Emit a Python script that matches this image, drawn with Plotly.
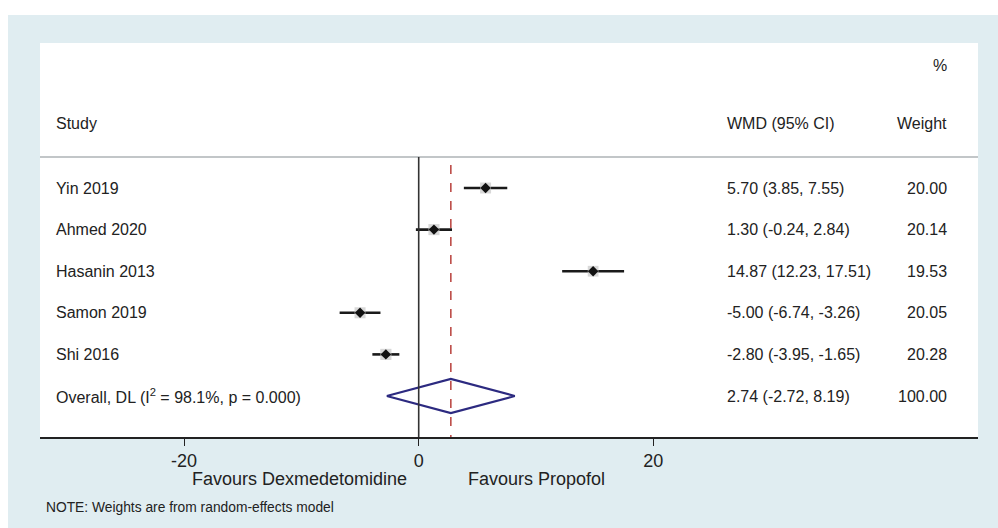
import plotly.graph_objects as go

# ---- data ----
studies = ["Yin 2019", "Ahmed 2020", "Hasanin 2013", "Samon 2019", "Shi 2016"]
wmd = [5.70, 1.30, 14.87, -5.00, -2.80]
ci_low = [3.85, -0.24, 12.23, -6.74, -3.95]
ci_high = [7.55, 2.84, 17.51, -3.26, -1.65]
weights = [20.00, 20.14, 19.53, 20.05, 20.28]

overall_label = "Overall, DL (I<sup>2</sup> = 98.1%, p = 0.000)"
overall_est = 2.74
overall_low = -2.72
overall_high = 8.19
overall_weight = 100.00

x_ticks = [-20, 0, 20]
left_label = "Favours Dexmedetomidine"
right_label = "Favours Propofol"
note = "NOTE: Weights are from random-effects model"

# ---- layout geometry (pixels) ----
W, H = 998, 528
PL, PR, PT, PB = 40, 978, 43, 437
X0PX, XSCALE = 418.7, 11.73
ROW0PX, ROWSTEP = 396, 41.6

def xpx(v):
    return (v - PL) / (PR - PL)

def ypx(p):
    return (PB - p) / (PB - PT)

def row_of(p):
    return 1 + (ROW0PX - p) / ROWSTEP

xmin = (PL - X0PX) / XSCALE
xmax = (PR - X0PX) / XSCALE
ymin = row_of(PB)
ymax = row_of(PT)

n = len(studies)
rows = [n + 1 - i for i in range(n)]  # 6..2
overall_row = 1

FONT = "Liberation Sans, Arial, Helvetica, sans-serif"
TXT = "#222222"
FS = 16
FA = 18

fig = go.Figure()

# CI lines
cx, cy = [], []
for lo, hi, r in zip(ci_low, ci_high, rows):
    cx += [lo, hi, None]
    cy += [r, r, None]
fig.add_trace(go.Scatter(x=cx, y=cy, mode="lines",
                         line=dict(color="#1a1a1a", width=2.6),
                         hoverinfo="skip", showlegend=False))
# weight boxes
fig.add_trace(go.Scatter(x=wmd, y=rows, mode="markers",
                         marker=dict(symbol="square", size=[w * 0.55 for w in weights],
                                     color="#c8c8c8", line=dict(width=0)),
                         showlegend=False))
# point estimates
fig.add_trace(go.Scatter(x=wmd, y=rows, mode="markers",
                         marker=dict(symbol="diamond", size=8, color="#111111"),
                         showlegend=False))
# overall diamond
dh = 0.41
fig.add_trace(go.Scatter(
    x=[overall_low, overall_est, overall_high, overall_est, overall_low],
    y=[overall_row, overall_row + dh, overall_row, overall_row - dh, overall_row],
    mode="lines", line=dict(color="#2c2a80", width=2.2),
    hoverinfo="skip", showlegend=False))

sep_row = row_of(157)

shapes = [
    # white outer strips
    dict(type="rect", xref="paper", yref="paper", x0=xpx(-5), x1=xpx(W + 5),
         y0=ypx(15), y1=ypx(-5), fillcolor="white", line=dict(width=0), layer="below"),
    dict(type="rect", xref="paper", yref="paper", x0=xpx(-5), x1=xpx(8),
         y0=ypx(H + 5), y1=ypx(-5), fillcolor="white", line=dict(width=0), layer="below"),
    # separator
    dict(type="line", xref="paper", yref="y", x0=0, x1=1, y0=sep_row, y1=sep_row,
         line=dict(color="#c2c6c8", width=2)),
    # null line
    dict(type="line", xref="x", yref="y", x0=0, x1=0, y0=sep_row, y1=ymin,
         line=dict(color="#333333", width=1.6)),
    # overall effect line
    dict(type="line", xref="x", yref="y", x0=overall_est, x1=overall_est,
         y0=row_of(165), y1=ymin,
         line=dict(color="#b8403c", width=1.5, dash="dash")),
]

ann = []
def text(x, y, s, xanchor="left", size=FS, yref="y", xref="paper", color=TXT):
    ann.append(dict(x=x, y=y, xref=xref, yref=yref, text=s, showarrow=False,
                    xanchor=xanchor, yanchor="middle",
                    font=dict(family=FONT, size=size, color=color)))

STUDY_X = xpx(54)
WMD_X = xpx(725)
WT_X = xpx(949)

text(STUDY_X, row_of(123), "Study")
text(WMD_X, row_of(123), "WMD (95% CI)")
text(WT_X, row_of(123), "Weight", xanchor="right")
text(WT_X, row_of(65), "%", xanchor="right")

for s, e, lo, hi, w, r in zip(studies, wmd, ci_low, ci_high, weights, rows):
    text(STUDY_X, r, s)
    text(WMD_X, r, f"{e:.2f} ({lo:.2f}, {hi:.2f})")
    text(WT_X, r, f"{w:.2f}", xanchor="right")

text(STUDY_X, overall_row, overall_label)
text(WMD_X, overall_row, f"{overall_est:.2f} ({overall_low:.2f}, {overall_high:.2f})")
text(WT_X, overall_row, f"{overall_weight:.2f}", xanchor="right")

ann.append(dict(x=xpx(299), y=ypx(479), xref="paper", yref="paper", text=left_label,
                showarrow=False, xanchor="center", yanchor="middle",
                font=dict(family=FONT, size=FA, color=TXT)))
ann.append(dict(x=xpx(536), y=ypx(479), xref="paper", yref="paper", text=right_label,
                showarrow=False, xanchor="center", yanchor="middle",
                font=dict(family=FONT, size=FA, color=TXT)))
ann.append(dict(x=xpx(44), y=ypx(507), xref="paper", yref="paper", text=note,
                showarrow=False, xanchor="left", yanchor="middle",
                font=dict(family=FONT, size=13.8, color=TXT)))

fig.update_layout(
    width=W, height=H,
    margin=dict(l=PL, r=W - PR, t=PT, b=H - PB),
    paper_bgcolor="#e0edf1",
    plot_bgcolor="white",
    shapes=shapes,
    annotations=ann,
    xaxis=dict(range=[xmin, xmax], tickvals=x_ticks, ticktext=[str(t) for t in x_ticks],
               showgrid=False, zeroline=False, showline=True, linecolor="#222222",
               linewidth=1.6, ticks="outside", ticklen=7, tickcolor="#222222",
               tickwidth=1.3, tickfont=dict(family=FONT, size=FA, color=TXT)),
    yaxis=dict(range=[ymin, ymax], showgrid=False, zeroline=False, showline=False,
               showticklabels=False, ticks=""),
    showlegend=False,
)

fig.write_html("out.html")
